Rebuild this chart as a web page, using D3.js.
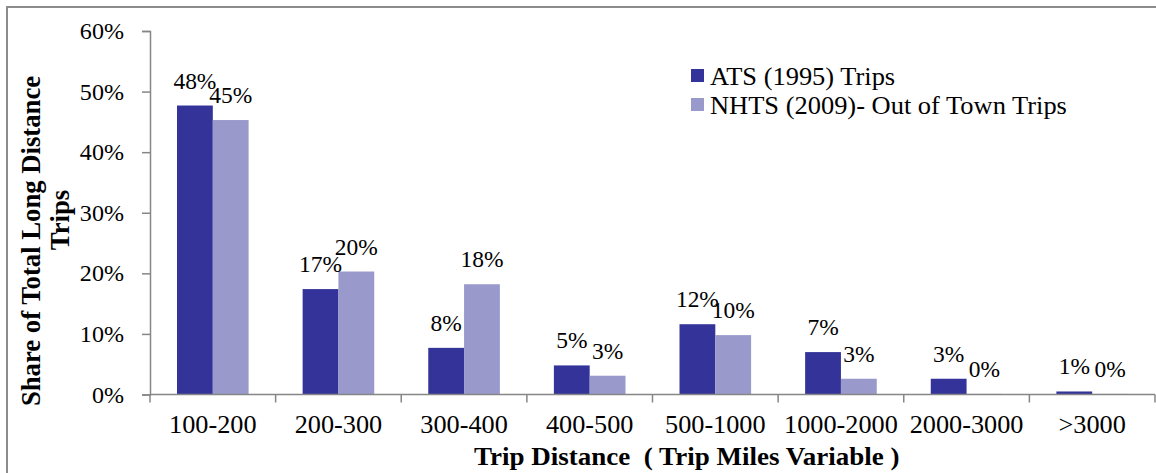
<!DOCTYPE html>
<html>
<head>
<meta charset="utf-8">
<script src="https://cdn.jsdelivr.net/npm/d3@7"></script>
<style>
  html, body { margin: 0; padding: 0; background: #fff; }
  svg { display: block; }
  text { white-space: pre; }
</style>
</head>
<body>
<svg id="chart" width="1156" height="473"></svg>
<script>
const categories = ["100-200", "200-300", "300-400", "400-500", "500-1000", "1000-2000", "2000-3000", ">3000"];
const atsValues  = [47.7, 17.4, 7.7, 4.8, 11.6, 7.0, 2.6, 0.5];
const nhtsValues = [45.3, 20.3, 18.2, 3.1, 9.8, 2.6, 0.1, 0.1];
const seriesNames = ["ATS (1995) Trips", "NHTS (2009)- Out of Town Trips"];
const yTicks = [0, 10, 20, 30, 40, 50, 60];
const xTitle = "Trip Distance  ( Trip Miles Variable )";
const yTitleLines = ["Share of Total Long Distance", "Trips"];

(function () {
const colors = ["#333399", "#9999cc"];
const FONT = "'Liberation Serif', 'Times New Roman', serif";

const svg = d3.select("#chart");
const pLeft = 150, pRight = 1155, pTop = 31, pBottom = 394.5;

// outer frame
svg.append("rect").attr("x", 7).attr("y", 7).attr("width", 1170).attr("height", 500)
  .attr("fill", "#fff").attr("stroke", "#8c8c8c").attr("stroke-width", 2);

const x = d3.scaleBand().domain(categories).range([pLeft, pRight]).paddingInner(0.43).paddingOuter(0.215);
const x1 = d3.scaleBand().domain([0, 1]).range([0, x.bandwidth()]);
const y = d3.scaleLinear().domain([0, 60]).range([pBottom, pTop]);

function txt(g, px, py, s, opts) {
  const t = g.append("text")
    .attr("transform", `translate(${px},${py}) scale(${opts.sx || 1},1)`)
    .attr("font-family", FONT)
    .attr("font-size", opts.size || 22)
    .attr("font-weight", opts.bold ? "bold" : "normal")
    .attr("text-anchor", opts.anchor || "middle")
    .attr("fill", "#000")
    .text(s);
  if (opts.baseline) t.attr("dominant-baseline", opts.baseline);
  return t;
}

// bars
const data = categories.map((c, i) => ({ c, v: [atsValues[i], nhtsValues[i]] }));
const groups = svg.append("g");
data.forEach(d => {
  d.v.forEach((v, k) => {
    groups.append("rect")
      .attr("x", x(d.c) + x1(k))
      .attr("y", y(v))
      .attr("width", x1.bandwidth())
      .attr("height", y(0) - y(v))
      .attr("fill", colors[k]);
  });
});

// y axis
const yAxis = d3.axisLeft(y).tickValues(yTicks).tickSize(8).tickFormat(d => d + "%");
const yg = svg.append("g").attr("transform", `translate(${pLeft},0)`).call(yAxis);
yg.select(".domain").attr("stroke", "#868686").attr("stroke-width", 1.5);
yg.selectAll(".tick line").attr("stroke", "#868686").attr("stroke-width", 1.5);
yg.selectAll(".tick text").remove();
yTicks.forEach(t => {
  txt(svg, 124, y(t) + 8, t + "%", { anchor: "end", size: 22.5, sx: 1.07 });
});

// x axis
const boundaries = d3.range(categories.length + 1).map(i => pLeft + i * x.step());
const xg = svg.append("g").attr("transform", `translate(0,${pBottom})`);
xg.append("line").attr("x1", pLeft).attr("x2", pRight).attr("y1", 0).attr("y2", 0)
  .attr("stroke", "#868686").attr("stroke-width", 1.5);
boundaries.forEach(b => {
  xg.append("line").attr("x1", b).attr("x2", b).attr("y1", 0).attr("y2", 8)
    .attr("stroke", "#868686").attr("stroke-width", 1.5);
});
categories.forEach(c => {
  txt(svg, x(c) + x.bandwidth() / 2, 432.5, c, { size: 25, sx: 1.05 });
});

// value labels
data.forEach(d => {
  d.v.forEach((v, k) => {
    txt(svg, x(d.c) + x1(k) + x1.bandwidth() / 2, y(v) - 17, Math.round(v) + "%", { size: 23, sx: 1.02 });
  });
});

// axis titles
txt(svg, 474, 465, xTitle, { size: 25.5, bold: true, anchor: "start", sx: 1.06 });
svg.append("text")
  .attr("transform", `translate(40,241) rotate(-90)`)
  .attr("font-family", FONT).attr("font-size", 26.7).attr("font-weight", "bold")
  .attr("text-anchor", "middle").text(yTitleLines[0]);
svg.append("text")
  .attr("transform", `translate(69,220) rotate(-90)`)
  .attr("font-family", FONT).attr("font-size", 26.7).attr("font-weight", "bold")
  .attr("text-anchor", "middle").text(yTitleLines[1]);

// legend
seriesNames.forEach((s, i) => {
  const ly = 69 + i * 29;
  svg.append("rect").attr("x", 691).attr("y", ly).attr("width", 13).attr("height", 13).attr("fill", colors[i]);
  txt(svg, 710, ly + 16, s, { anchor: "start", size: 24.5, sx: 1.08 });
});
})();
</script>
</body>
</html>
